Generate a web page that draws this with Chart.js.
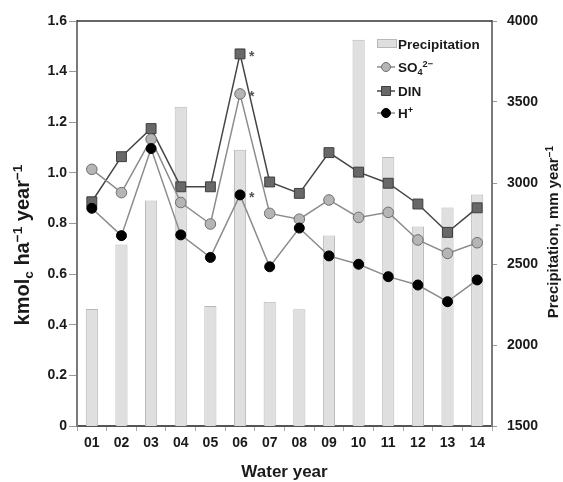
<!DOCTYPE html>
<html>
<head>
<meta charset="utf-8">
<script src="https://cdn.jsdelivr.net/npm/chart.js@4/dist/chart.umd.min.js"></script>
<style>
  html, body { margin: 0; padding: 0; background: #fff; }
  canvas { display: block; }
</style>
</head>
<body>
<canvas id="chart" width="563" height="482"></canvas>
<script>
// Water years (category tick labels)
const waterYears = ['01', '02', '03', '04', '05', '06', '07', '08', '09', '10', '11', '12', '13', '14'];

// Annual precipitation, mm year-1 (right axis)
const precipitation = [2222, 2621, 2892, 3470, 2240, 3206, 2267, 2220, 2676, 3885, 3160, 2732, 2849, 2929];

// Deposition fluxes, kmolc ha-1 year-1 (left axis)
const so4 = [1.014, 0.922, 1.133, 0.883, 0.798, 1.312, 0.840, 0.817, 0.893, 0.824, 0.844, 0.735, 0.682, 0.724];
const din = [0.886, 1.064, 1.175, 0.945, 0.945, 1.470, 0.964, 0.919, 1.080, 1.003, 0.959, 0.877, 0.765, 0.862];
const hPlus = [0.860, 0.752, 1.096, 0.755, 0.666, 0.913, 0.629, 0.782, 0.672, 0.639, 0.590, 0.557, 0.491, 0.577];

// Years flagged with an asterisk
const flaggedYears = ['06'];

// Axis ranges and tick steps
const fluxTicks = { min: 0, max: 1.6, step: 0.2 };
const precipTicks = { min: 1500, max: 4000, step: 500 };

const FONT = "'Liberation Sans', Arial, Helvetica, sans-serif";
const TEXT = '#1a1a1a';

// Draw a run of text pieces; each piece is [text, mode] with mode 1 = superscript, -1 = subscript
function drawRich(ctx, parts, x, y, size, align) {
  const widths = parts.map(([t, m]) => {
    ctx.font = `bold ${m ? size * 0.68 : size}px ${FONT}`;
    return ctx.measureText(t).width;
  });
  const total = widths.reduce((a, b) => a + b, 0);
  let cx = align === 'center' ? x - total / 2 : x;
  ctx.textAlign = 'left';
  ctx.textBaseline = 'alphabetic';
  parts.forEach(([t, m], i) => {
    ctx.font = `bold ${m ? size * 0.68 : size}px ${FONT}`;
    const dy = m === 1 ? -size * 0.36 : m === -1 ? size * 0.2 : 0;
    ctx.fillText(t, cx, y + dy);
    cx += widths[i];
  });
}

const decorations = {
  id: 'decorations',
  afterDatasetsDraw(chart) {
    const ctx = chart.ctx;
    ctx.save();
    // asterisks beside the flagged points of each flux series
    ctx.fillStyle = '#555';
    ctx.font = `bold 14px ${FONT}`;
    ctx.textAlign = 'left';
    ctx.textBaseline = 'middle';
    [1, 2, 3].forEach(di => {
      const meta = chart.getDatasetMeta(di);
      flaggedYears.forEach(label => {
        const idx = waterYears.indexOf(label);
        const pt = meta.data[idx];
        ctx.fillText('*', pt.x + 9, pt.y + 3);
      });
    });
    ctx.restore();
  },
  afterDraw(chart) {
    const ctx = chart.ctx;
    const area = chart.chartArea;
    ctx.save();
    // top edge of the plot frame
    ctx.strokeStyle = '#333';
    ctx.lineWidth = 1.5;
    ctx.beginPath();
    ctx.moveTo(area.left, area.top);
    ctx.lineTo(area.right, area.top);
    ctx.stroke();

    ctx.fillStyle = TEXT;
    // x axis title
    drawRich(ctx, [['Water year', 0]], (area.left + area.right) / 2, 477, 17, 'center');

    // left axis title
    ctx.save();
    ctx.translate(29, 245);
    ctx.rotate(-Math.PI / 2);
    drawRich(ctx, [['kmol', 0], ['c', -1], [' ha', 0], ['\u22121', 1], [' year', 0], ['\u22121', 1]], 0, 0, 20, 'center');
    ctx.restore();

    // right axis title
    ctx.save();
    ctx.translate(558, 232);
    ctx.rotate(-Math.PI / 2);
    drawRich(ctx, [['Precipitation, mm year', 0], ['\u22121', 1]], 0, 0, 15, 'center');
    ctx.restore();

    // legend
    const lx = 377, sx = 386, tx = 398;
    const rows = [44, 67, 91, 113];
    const ds = chart.data.datasets;
    // precipitation swatch
    ctx.fillStyle = ds[0].backgroundColor;
    ctx.strokeStyle = ds[0].borderColor;
    ctx.lineWidth = 1;
    ctx.fillRect(lx, rows[0] - 5, 20, 9);
    ctx.strokeRect(lx + 0.5, rows[0] - 4.5, 19, 8);
    // series swatches
    [1, 2, 3].forEach((di, k) => {
      const d = ds[di];
      const y = rows[k + 1];
      ctx.strokeStyle = d.borderColor;
      ctx.lineWidth = 1.5;
      ctx.beginPath();
      ctx.moveTo(lx, y);
      ctx.lineTo(lx + 18, y);
      ctx.stroke();
      ctx.fillStyle = d.pointBackgroundColor;
      ctx.strokeStyle = d.pointBorderColor;
      ctx.lineWidth = 1;
      ctx.beginPath();
      if (d.pointStyle === 'rect') {
        ctx.rect(sx - 4.5, y - 4.5, 9, 9);
      } else {
        ctx.arc(sx, y, 4.5, 0, Math.PI * 2);
      }
      ctx.fill();
      ctx.stroke();
    });
    ctx.fillStyle = TEXT;
    drawRich(ctx, [['Precipitation', 0]], tx, rows[0] + 5, 13.5, 'left');
    drawRich(ctx, [['SO', 0], ['4', -1], ['2\u2212', 1]], tx, rows[1] + 5, 13.5, 'left');
    drawRich(ctx, [['DIN', 0]], tx, rows[2] + 5, 13.5, 'left');
    drawRich(ctx, [['H', 0], ['+', 1]], tx, rows[3] + 5, 13.5, 'left');
    ctx.restore();
  }
};

const tickFont = { family: FONT, size: 14, weight: 'bold' };

new Chart(document.getElementById('chart'), {
  data: {
    labels: waterYears,
    datasets: [
      {
        type: 'bar',
        label: 'Precipitation',
        data: precipitation,
        yAxisID: 'y1',
        backgroundColor: '#dfdfdf',
        borderColor: '#b8b8b8',
        borderWidth: 1,
        barPercentage: 0.41,
        categoryPercentage: 1.0,
        order: 3
      },
      {
        type: 'line',
        label: 'SO4 2-',
        data: so4,
        yAxisID: 'y',
        borderColor: '#8c8c8c',
        borderWidth: 1.5,
        pointStyle: 'circle',
        pointRadius: 5.3,
        pointBackgroundColor: '#b5b5b5',
        pointBorderColor: '#6e6e6e',
        pointBorderWidth: 1,
        tension: 0,
        order: 1
      },
      {
        type: 'line',
        label: 'DIN',
        data: din,
        yAxisID: 'y',
        borderColor: '#454545',
        borderWidth: 1.5,
        pointStyle: 'rect',
        pointRadius: 7,
        pointBackgroundColor: '#686868',
        pointBorderColor: '#3f3f3f',
        pointBorderWidth: 1,
        tension: 0,
        order: 2
      },
      {
        type: 'line',
        label: 'H+',
        data: hPlus,
        yAxisID: 'y',
        borderColor: '#8c8c8c',
        borderWidth: 1.5,
        pointStyle: 'circle',
        pointRadius: 5,
        pointBackgroundColor: '#000000',
        pointBorderColor: '#000000',
        pointBorderWidth: 1,
        tension: 0,
        order: 0
      }
    ]
  },
  options: {
    responsive: false,
    animation: false,
    devicePixelRatio: 1,
    layout: { padding: { top: 21, left: 0, right: 0, bottom: 0 } },
    plugins: {
      legend: { display: false },
      tooltip: { enabled: false }
    },
    scales: {
      x: {
        type: 'category',
        offset: true,
        grid: { display: true, drawOnChartArea: false, drawTicks: true, tickLength: 5, color: '#aaaaaa', offset: true },
        border: { display: true, color: '#555555', width: 2 },
        ticks: { font: tickFont, color: TEXT, padding: 4, maxRotation: 0, autoSkip: false },
        afterFit(scale) { scale.height = 56; }
      },
      y: {
        position: 'left',
        min: fluxTicks.min,
        max: fluxTicks.max,
        grid: { drawOnChartArea: false, drawTicks: true, tickLength: 8, color: '#999999' },
        border: { display: true, color: '#7a7a7a', width: 2 },
        ticks: { stepSize: fluxTicks.step, font: tickFont, color: TEXT, padding: 2 },
        afterFit(scale) { scale.width = 77; }
      },
      y1: {
        position: 'right',
        min: precipTicks.min,
        max: precipTicks.max,
        grid: { drawOnChartArea: false, drawTicks: true, tickLength: 5, color: '#999999' },
        border: { display: true, color: '#7a7a7a', width: 2 },
        ticks: { stepSize: precipTicks.step, font: tickFont, color: TEXT, padding: 10, callback: v => String(v) },
        afterFit(scale) { scale.width = 71; }
      }
    }
  },
  plugins: [decorations]
});
</script>
</body>
</html>
